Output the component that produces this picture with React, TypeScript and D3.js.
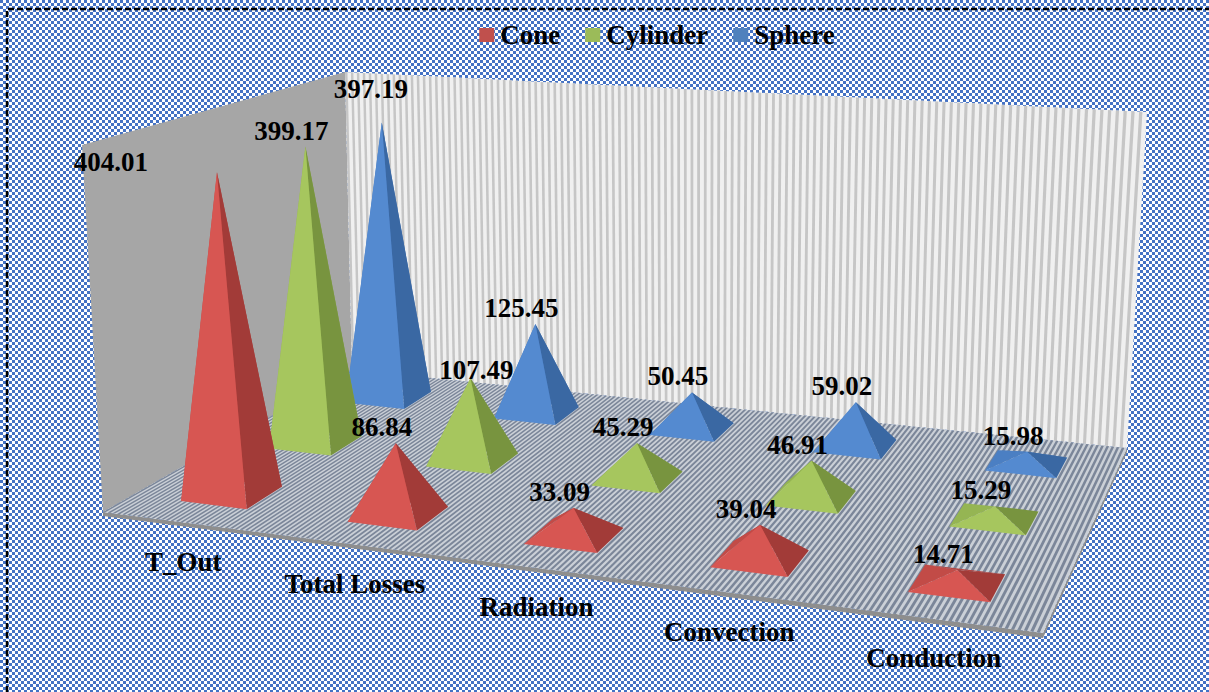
import React from 'react';
import * as d3 from 'd3';

const categories = ['T_Out', 'Total Losses', 'Radiation', 'Convection', 'Conduction'];
const seriesNames = ['Cone', 'Cylinder', 'Sphere'];
const coneValues = [404.01, 86.84, 33.09, 39.04, 14.71];
const cylinderValues = [399.17, 107.49, 45.29, 46.91, 15.29];
const sphereValues = [397.19, 125.45, 50.45, 59.02, 15.98];
const valueMax = 450;

const seriesValues = [coneValues, cylinderValues, sphereValues];

const palette = [
  { legend: '#c0504d', front: '#d75652', right: '#a23b38', back: '#b34441', left: '#c24b47' },
  { legend: '#9bbb59', front: '#a6c65e', right: '#78943f', back: '#89a84b', left: '#95b553' },
  { legend: '#4f81bd', front: '#548ad0', right: '#3a68a3', back: '#4474b5', left: '#4b7fc3' },
];

// manual label nudges (layout only)
const labelNudge: Record<string, [number, number]> = {
  'T_Out|Cone': [-92, 6],
  'T_Out|Sphere': [3, -17],
  'Total Losses|Cylinder': [20, 8],
};

type P = [number, number];

// frame of the 3D box (floor and top planes), u along categories, v along series depth
const floorQuad: P[] = [[103, 512], [1043, 633], [1127, 448], [352, 370]];
const topQuad: P[] = [[82, 145], [1064, 211], [1147, 112], [345, 72]];

function homography(p0: P, p1: P, p2: P, p3: P) {
  const dx1 = p1[0] - p2[0], dx2 = p3[0] - p2[0], dx3 = p0[0] - p1[0] + p2[0] - p3[0];
  const dy1 = p1[1] - p2[1], dy2 = p3[1] - p2[1], dy3 = p0[1] - p1[1] + p2[1] - p3[1];
  const den = dx1 * dy2 - dx2 * dy1;
  const g = (dx3 * dy2 - dx2 * dy3) / den;
  const h = (dx1 * dy3 - dx3 * dy1) / den;
  const a = p1[0] - p0[0] + g * p1[0], b = p3[0] - p0[0] + h * p3[0], c = p0[0];
  const d = p1[1] - p0[1] + g * p1[1], e = p3[1] - p0[1] + h * p3[1], f = p0[1];
  return (u: number, v: number): P => {
    const w = g * u + h * v + 1;
    return [(a * u + b * v + c) / w, (d * u + e * v + f) / w];
  };
}

const Hb = homography(floorQuad[0], floorQuad[1], floorQuad[2], floorQuad[3]);
const Ht = homography(topQuad[0], topQuad[1], topQuad[2], topQuad[3]);

function project(u: number, v: number, s: number): P {
  const b = Hb(u, v);
  const t = Ht(u, v);
  return [b[0] + (t[0] - b[0]) * s, b[1] + (t[1] - b[1]) * s];
}

const poly = (pts: P[]) => 'M' + pts.map((p) => `${p[0].toFixed(2)},${p[1].toFixed(2)}`).join('L') + 'Z';

const font = "'Liberation Serif', 'Times New Roman', serif";

export default function App() {
  const W = 1209, H = 692;
  const xBand = d3.scaleBand<string>().domain(categories).range([0, 1]).paddingInner(0.6).paddingOuter(0.3);
  const zBand = d3.scaleBand<string>().domain(seriesNames).range([0, 1]).paddingInner(0.6).paddingOuter(0.3);
  const yScale = d3.scaleLinear().domain([0, valueMax]).range([0, 1]);

  const leftWall = [project(0, 0, 0), project(0, 0, 1), project(0, 1, 1), project(0, 1, 0)];
  const backWall = [project(0, 1, 0), project(0, 1, 1), project(1, 1, 1), project(1, 1, 0)];
  const floor = [project(0, 0, 0), project(1, 0, 0), project(1, 1, 0), project(0, 1, 0)];

  const nBack = 118;
  const backStripes: string[] = [];
  for (let i = 0; i < nBack; i++) {
    const u0 = i / nBack, u1 = (i + 0.42) / nBack;
    backStripes.push(poly([project(u0, 1, 0), project(u0, 1, 1), project(u1, 1, 1), project(u1, 1, 0)]));
  }
  const nFloor = 170;
  const floorStripes: string[] = [];
  for (let i = 0; i < nFloor; i++) {
    const u0 = i / nFloor, u1 = (i + 0.5) / nFloor;
    floorStripes.push(poly([project(u0, 0, 0), project(u0, 1, 0), project(u1, 1, 0), project(u1, 0, 0)]));
  }

  const fl = floor;
  const thick: P[] = [fl[0], fl[1], fl[2], [fl[2][0], fl[2][1] + 4], [fl[1][0], fl[1][1] + 5], [fl[0][0], fl[0][1] + 4]];

  type Pyr = { key: string; faces: { d: string; fill: string }[]; apex: P; label: string; nudge: P };
  const pyramids: Pyr[] = [];
  for (let si = seriesNames.length - 1; si >= 0; si--) {
    const sName = seriesNames[si];
    const v0 = zBand(sName)!, v1 = v0 + zBand.bandwidth(), vc = (v0 + v1) / 2;
    categories.forEach((cat, ci) => {
      const val = seriesValues[si][ci];
      const u0 = xBand(cat)!, u1 = u0 + xBand.bandwidth(), uc = (u0 + u1) / 2;
      const apex = project(uc, vc, yScale(val));
      const a = project(u0, v0, 0), b = project(u1, v0, 0), c = project(u1, v1, 0), d = project(u0, v1, 0);
      const col = palette[si];
      pyramids.push({
        key: cat + '|' + sName,
        faces: [
          { d: poly([c, d, apex]), fill: col.back },
          { d: poly([d, a, apex]), fill: col.left },
          { d: poly([b, c, apex]), fill: col.right },
          { d: poly([a, b, apex]), fill: col.front },
        ],
        apex,
        label: val.toFixed(2),
        nudge: labelNudge[cat + '|' + sName] || [0, 0],
      });
    });
  }

  const catLabels = categories.map((cat) => {
    const uc = xBand(cat)! + xBand.bandwidth() / 2;
    const p = project(uc, 0, 0);
    return { cat, x: p[0] - 2, y: p[1] + 39 };
  });

  const legendFont = `bold 27px ${font}`;
  let measure = (t: string) => t.length * 13;
  if (typeof document !== 'undefined') {
    const ctx = document.createElement('canvas').getContext('2d');
    if (ctx) {
      ctx.font = legendFont;
      measure = (t: string) => ctx.measureText(t).width;
    }
  }
  const sq = 15, gapSq = 6, gapItem = 25;
  const widths = seriesNames.map((s) => sq + gapSq + measure(s));
  const total = d3.sum(widths) + gapItem * (seriesNames.length - 1);
  let lx = 657 - total / 2;
  const legendItems = seriesNames.map((s, i) => {
    const x = lx;
    lx += widths[i] + gapItem;
    return { s, x, color: palette[i].legend };
  });

  return (
    <svg width={W} height={H} style={{ position: 'absolute', left: 0, top: 0 }} xmlns="http://www.w3.org/2000/svg">
      <defs>
        <pattern id="chk" width={6} height={6} patternUnits="userSpaceOnUse">
          <rect width={6} height={6} fill="#ffffff" />
          <rect x={0} y={0} width={3} height={3} fill="#4472c4" />
          <rect x={3} y={3} width={3} height={3} fill="#4472c4" />
        </pattern>
      </defs>
      <rect width={W} height={H} fill="url(#chk)" />
      <path d={`M7,${H}V9H${W}`} fill="none" stroke="#000" strokeWidth={2.5} strokeDasharray="6,3" />

      <path d={poly(leftWall)} fill="#a6a6a6" />
      <path d={poly(backWall)} fill="#f0f0f0" />
      {backStripes.map((d, i) => (
        <path key={'bs' + i} d={d} fill="#c6c6c6" />
      ))}
      <path d={poly(thick)} fill="#8e8e8e" />
      <path d={poly(floor)} fill="#cbd0d7" />
      {floorStripes.map((d, i) => (
        <path key={'fs' + i} d={d} fill="#7b8699" />
      ))}

      {pyramids.map((p) => (
        <g key={p.key}>
          {p.faces.map((f, i) => (
            <path key={i} d={f.d} fill={f.fill} />
          ))}
        </g>
      ))}

      {pyramids.map((p) => (
        <text
          key={'l' + p.key}
          x={p.apex[0] - 14 + p.nudge[0]}
          y={p.apex[1] - 16 + p.nudge[1]}
          textAnchor="middle"
          dominantBaseline="central"
          fontFamily={font}
          fontWeight="bold"
          fontSize={27}
          fill="#000"
        >
          {p.label}
        </text>
      ))}

      {catLabels.map((c) => (
        <text key={c.cat} x={c.x} y={c.y} textAnchor="middle" dominantBaseline="central" fontFamily={font} fontWeight="bold" fontSize={27} fill="#000">
          {c.cat}
        </text>
      ))}

      {legendItems.map((it) => (
        <g key={it.s}>
          <rect x={it.x} y={28} width={sq} height={14} fill={it.color} />
          <text x={it.x + sq + gapSq} y={35} dominantBaseline="central" fontFamily={font} fontWeight="bold" fontSize={27} fill="#000">
            {it.s}
          </text>
        </g>
      ))}
    </svg>
  );
}
